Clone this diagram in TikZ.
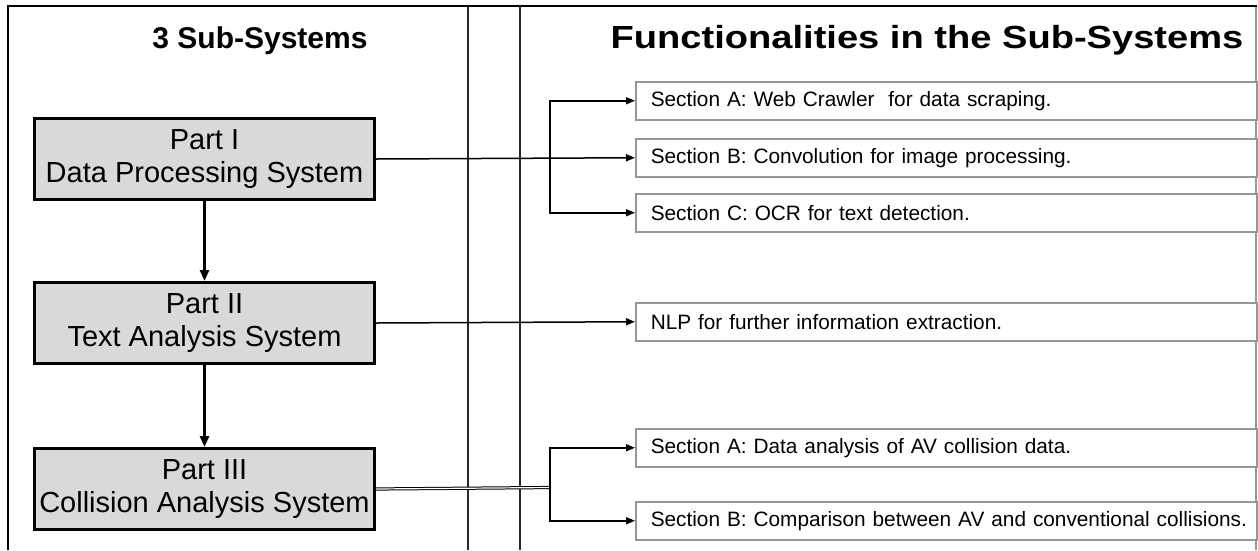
\documentclass[tikz,border=0pt]{standalone}
\usepackage{fontspec}
\setmainfont{Liberation Sans}
\usetikzlibrary{arrows.meta}
\definecolor{boxgray}{RGB}{217,217,217}
\definecolor{edgegray}{RGB}{150,150,150}
\definecolor{linedark}{RGB}{40,40,40}
\tikzset{
  partbox/.style={draw=black, line width=3pt, fill=boxgray, anchor=north west,
    minimum width=340pt, minimum height=81pt, align=center, inner sep=0pt,
    font=\fontsize{29}{33}\selectfont},
  secbox/.style={draw=edgegray, line width=1.5pt, fill=white, anchor=north west,
    text width=591pt, inner xsep=15pt, inner ysep=0pt, minimum height=38pt, align=left,
    font=\fontsize{20.8}{24}\selectfont},
  header/.style={font=\bfseries\fontsize{30}{36}\selectfont, anchor=base},
  thinarrow/.style={line width=1.5pt, -{Triangle[length=9pt,width=7pt]}},
  thickarrow/.style={line width=2.6pt, -{Triangle[length=11pt,width=9pt]}},
  frameline/.style={line width=2.5pt, black},
  divline/.style={line width=1.3pt, linedark}
}
\begin{document}
\begin{tikzpicture}[x=1pt,y=-1pt]
\useasboundingbox (0,0) rectangle (1258,550);
\fill[white] (0,0) rectangle (1258,550);
% frame
\draw[line width=1.2pt, edgegray] (1256,6) -- (1256,550);
\draw[divline] (468,6) -- (468,550);
\draw[divline] (520,6) -- (520,550);
\draw[frameline] (8,550) -- (8,6) -- (1257,6);
% headers
\node[header] (h1) at (260,48) {3 Sub-Systems};
\node[header] (h2) at (927,48) {\scalebox{1.19}[1]{\fontsize{32}{38}\selectfont Functionalities in the Sub-Systems}};
% part boxes
\node[partbox] (p1) at (33,117) {Part I\\Data Processing System};
\node[partbox] (p2) at (33,281) {Part II\\Text Analysis System};
\node[partbox] (p3) at (33,447) {Part III\\Collision Analysis System};
% section boxes
\node[secbox] (s1a) at (635,81) {\mbox{Section A: Web Crawler\ \ for data scraping.}};
\node[secbox] (s1b) at (635,138) {\mbox{Section B: Convolution for image processing.}};
\node[secbox] (s1c) at (635,193) {\mbox{Section C: OCR for text detection.}};
\node[secbox] (s2) at (635,302) {\mbox{NLP for further information extraction.}};
\node[secbox] (s3a) at (635,428) {\mbox{Section A: Data analysis of AV collision data.}};
\node[secbox] (s3b) at (635,501) {\mbox{Section B: Comparison between AV and conventional collisions.}};
% vertical flow
\draw[thickarrow] (p1.south) -- (p2.north);
\draw[thickarrow] (p2.south) -- (p3.north);
% part I connectors
\coordinate (b1) at (550,158);
\draw[thinarrow] (p1.east) -- (s1b.west);
\draw[thinarrow] (b1) |- (s1a.west);
\draw[thinarrow] (b1) |- (s1c.west);
% part II
\draw[thinarrow] (p2.east) -- (s2.west);
% part III
\coordinate (b3) at (550,487.5);
\draw[line width=1pt, double distance=1.2pt] (p3.east) -- (b3);
\draw[thinarrow] (b3) |- (s3a.west);
\draw[thinarrow] (b3) |- (s3b.west);
\end{tikzpicture}
\end{document}
